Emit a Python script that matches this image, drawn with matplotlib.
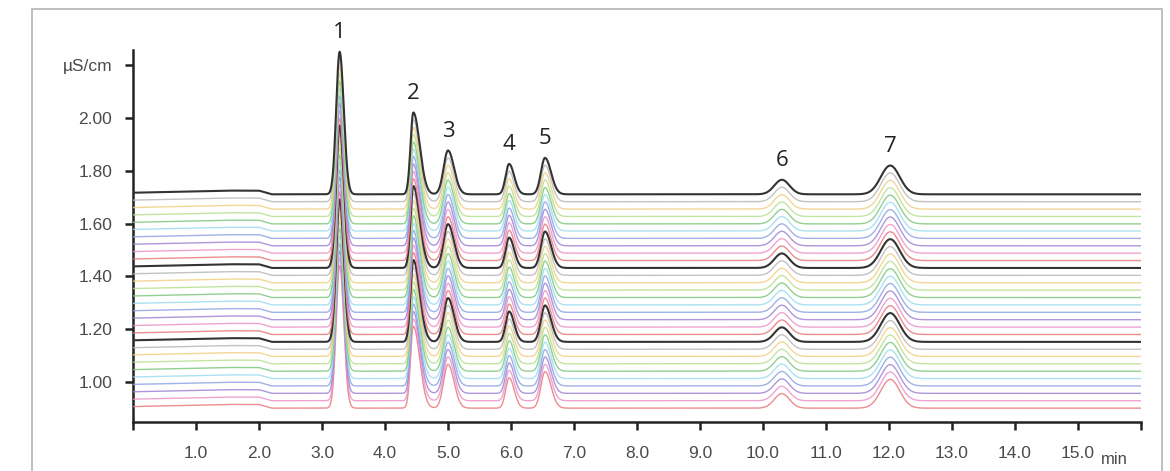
import matplotlib
matplotlib.use("Agg")
import matplotlib.pyplot as plt
import numpy as np
from matplotlib.patches import Rectangle

# peak table (top trace)
peak_labels = ["1", "2", "3", "4", "5", "6", "7"]
peak_times = [3.28, 4.45, 5.00, 5.97, 6.54, 10.30, 12.02]
peak_heights = [0.54, 0.31, 0.166, 0.115, 0.138, 0.055, 0.109]
peak_sigma_left = [0.055, 0.045, 0.07, 0.055, 0.065, 0.12, 0.15]
peak_sigma_right = [0.065, 0.10, 0.095, 0.08, 0.095, 0.12, 0.15]

# small baseline drift (time, offset)
drift_times = [0.0, 1.5, 2.0, 2.2, 16.0]
drift_values = [0.0, 0.008, 0.008, -0.006, -0.006]

# baseline level of each of the 30 overlaid runs, bottom to top
trace_offsets = [0.907, 0.935, 0.963, 0.991, 1.019, 1.047, 1.075, 1.103, 1.130, 1.158,
                 1.186, 1.214, 1.242, 1.270, 1.298, 1.326, 1.354, 1.382, 1.410, 1.438,
                 1.466, 1.494, 1.522, 1.550, 1.578, 1.605, 1.633, 1.661, 1.689, 1.717]
trace_colors = ["#e8787c", "#ec94c8", "#a084d4", "#8ea4e4", "#9cdcf0",
                "#7ec87e", "#b8e090", "#f0d084", "#b8b8b8", "#333333"]

x_ticks = list(range(0, 17))
x_labels = [""] + ["%.1f" % v for v in range(1, 16)] + [""]
y_ticks = [1.0, 1.2, 1.4, 1.6, 1.8, 2.0, 2.2]
y_labels = ["1.00", "1.20", "1.40", "1.60", "1.80", "2.00", "\u00b5S/cm"]


def trace(t, base):
    y = base + np.interp(t, drift_times, drift_values)
    for tr, h, sl, sr in zip(peak_times, peak_heights, peak_sigma_left, peak_sigma_right):
        s = np.where(t < tr, sl, sr)
        y = y + h * np.exp(-0.5 * ((t - tr) / s) ** 2)
    return y


fig = plt.figure(figsize=(11.7, 4.71), dpi=100)
fig.patches.append(Rectangle((32 / 1170, -0.05), (1162 - 32) / 1170, 1.05 - 9 / 471,
                             transform=fig.transFigure, fill=False,
                             edgecolor="#b4b4b4", linewidth=1.2))

ax = fig.add_axes([133 / 1170, 1 - 422 / 471, (1141 - 133) / 1170, (422 - 50) / 471])

t = np.linspace(0, 16, 3200)
for i, base in enumerate(trace_offsets):
    color = trace_colors[i % 10]
    if i % 10 == 9:
        ax.plot(t, trace(t, base), color=color, linewidth=1.5, zorder=3 + i)
    else:
        ax.plot(t, trace(t, base), color=color, linewidth=1.0, alpha=0.85, zorder=3 + i)

top = trace_offsets[-1] + drift_values[-1]
for lab, tr, h in zip(peak_labels, peak_times, peak_heights):
    ax.annotate(lab, (tr, top + h), xytext=(0, 14), textcoords="offset points",
                ha="center", va="center", fontsize=16, family="Open Sans",
                color="#222222", annotation_clip=False)

ax.set_xlim(0, 16)
ax.set_ylim(0.8485, 2.2576)
ax.set_xticks(x_ticks)
ax.set_xticklabels(x_labels)
ax.set_yticks(y_ticks)
ax.set_yticklabels(y_labels)

for side in ["top", "right"]:
    ax.spines[side].set_visible(False)
for side in ["left", "bottom"]:
    ax.spines[side].set_linewidth(1.8)
    ax.spines[side].set_color("#222222")

ax.tick_params(axis="both", direction="out", length=6, width=1.8, color="#222222",
               labelcolor="#4a4a4a", labelsize=12.5)
ax.tick_params(axis="y", pad=9)
ax.tick_params(axis="x", pad=11)
for lbl in ax.get_xticklabels() + ax.get_yticklabels():
    lbl.set_family("Liberation Sans")

fig.text(1114 / 1170, 1 - 459 / 471, "min", ha="center", va="center",
         fontsize=12, family="Liberation Sans", color="#4a4a4a")

fig.savefig("out.png", dpi=100, facecolor="white")
